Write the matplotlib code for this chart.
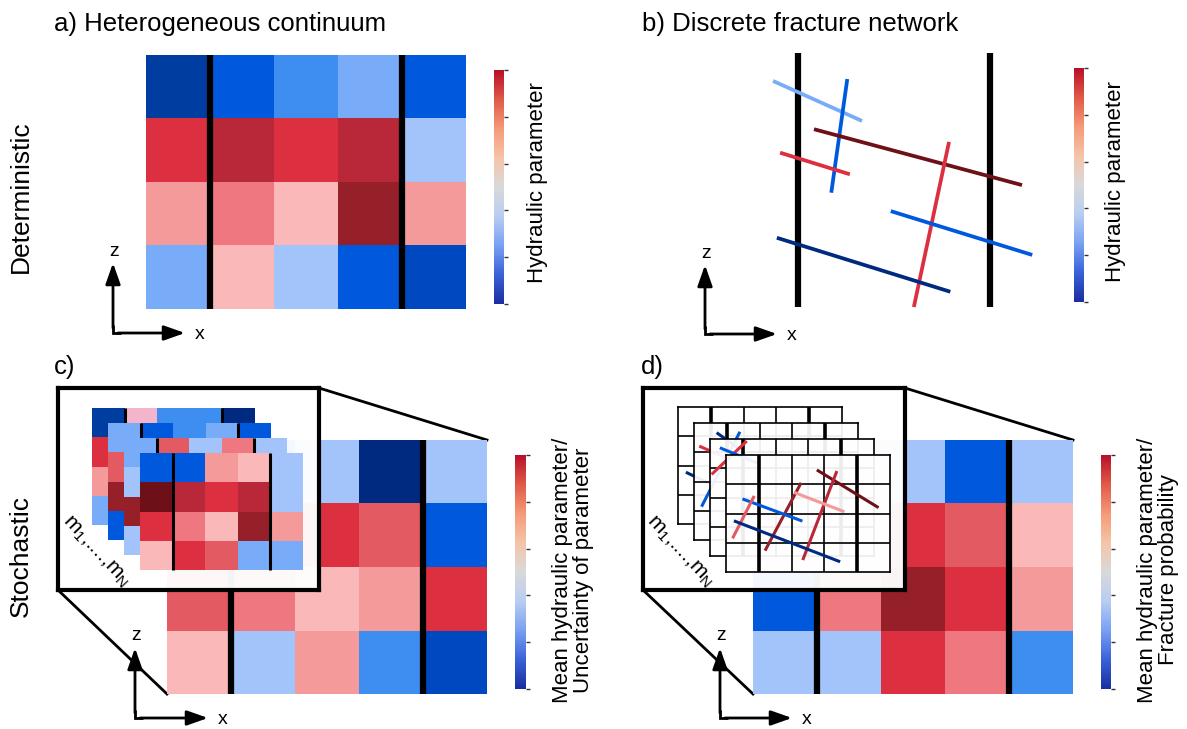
import matplotlib.pyplot as plt
from matplotlib.colors import ListedColormap, LinearSegmentedColormap, Normalize
from matplotlib.cm import ScalarMappable

plt.rcParams['font.family'] = ['Liberation Sans', 'DejaVu Sans']

W, H = 1187, 729

# colour classes used by the cells and fractures
cell_colours = ['#002a80', '#003da0', '#0048c0', '#0059dd', '#3d8ef0', '#78acf8',
                '#a3c4fa', '#fab8b8', '#f49a9a', '#ef7880', '#e45a62', '#dc3040',
                '#b82838', '#96202a', '#6e1018', '#f4b4cc']
cbar_colours = ['#1a2ea0', '#3a62d8', '#7aa0f2', '#b8cdf2', '#d9d9d9',
                '#f5c4a8', '#f59a78', '#e05a48', '#b8102a']

# a) deterministic continuum, rows top -> bottom
a_cells = [[1, 3, 4, 5, 3],
           [11, 12, 11, 12, 6],
           [8, 9, 7, 13, 8],
           [5, 7, 6, 3, 2]]

# b) fractures: (x0, z0, x1, z1, colour class) in cell units
b_fractures = [(0.61, 0.44, 2.00, 1.07, 5),
               (1.77, 0.41, 1.52, 2.20, 3),
               (1.25, 1.20, 4.50, 2.08, 14),
               (0.72, 1.57, 1.81, 1.91, 11),
               (3.36, 1.40, 2.81, 4.00, 11),
               (2.45, 2.49, 4.66, 3.18, 3),
               (0.67, 2.91, 3.38, 3.76, 0)]

# c) mean of realisations and the realisations m1..mN
c_cells = [[5, 3, 6, 0, 6],
           [12, 8, 11, 10, 3],
           [10, 9, 7, 8, 11],
           [7, 6, 8, 4, 2]]
c_layers = [[[1, 15, 4, 4, 0], [11, 6, 9, 3, 5], [8, 12, 10, 7, 3], [5, 9, 6, 11, 8]],
            [[5, 3, 4, 5, 3], [10, 9, 7, 6, 11], [13, 11, 8, 5, 4], [3, 7, 6, 12, 9]],
            [[5, 10, 6, 9, 6], [6, 8, 12, 10, 5], [13, 12, 11, 13, 6], [6, 8, 5, 7, 9]],
            [[3, 3, 8, 7, 6], [14, 12, 11, 12, 6], [11, 9, 7, 13, 8], [7, 11, 10, 5, 5]]]

# d) fracture probability and the DFN realisations
d_cells = [[6, 5, 6, 3, 6],
           [9, 12, 11, 10, 7],
           [3, 9, 13, 11, 8],
           [6, 6, 11, 9, 4]]
d_layer_fractures = [
    [(0.24, 2.23, 1.50, 2.90, 0)],
    [(0.16, 0.79, 1.60, 1.50, 11), (1.40, 0.30, 0.23, 2.86, 3), (0.69, 0.33, 1.40, 0.90, 0)],
    [(1.12, 0.07, 0.05, 1.21, 11), (0.30, 0.30, 1.50, 0.85, 3)],
    [(2.77, 0.51, 4.65, 1.80, 14), (3.38, 0.55, 2.34, 3.59, 12),
     (2.29, 0.95, 1.19, 3.27, 13), (2.08, 1.28, 3.61, 1.94, 8),
     (0.50, 1.50, 2.33, 2.26, 3), (0.86, 1.40, 0.20, 2.85, 10),
     (0.24, 2.25, 3.48, 3.65, 0)]]

zones = [1, 4]   # fracture zones (thick black lines) at these cell boundaries
real_label = r'm$_\mathregular{1}$,....,m$_\mathregular{N}$'

pal = ListedColormap(cell_colours)
pnorm = Normalize(-0.5, len(cell_colours) - 0.5)
cbar_cmap = LinearSegmentedColormap.from_list('hyd', cbar_colours)

fig = plt.figure(figsize=(W / 100, H / 100), dpi=100)
ax = fig.add_axes([0, 0, 1, 1])
ax.set_xlim(0, W)
ax.set_ylim(H, 0)
ax.axis('off')


def px_axes(x0, y0, w, h, off=True):
    a = fig.add_axes([x0 / W, 1 - (y0 + h) / H, w / W, h / H])
    a.set_xlim(0, 5)
    a.set_ylim(4, 0)
    if off:
        a.axis('off')
    else:
        a.set_xticks([])
        a.set_yticks([])
    return a


def grid(x0, y0, w, h, cells, lw=4.5):
    g = px_axes(x0, y0, w, h)
    g.pcolormesh(cells, cmap=pal, norm=pnorm)
    g.vlines(zones, 0, 4, color='k', lw=lw, clip_on=False)
    return g


def fractures(g, fr, lw):
    for x0, z0, x1, z1, c in fr:
        g.plot([x0, x1], [z0, z1], color=pal(pnorm(c)), lw=lw,
               solid_capstyle='butt', clip_on=False)


def colourbar(x0, y0, w, h):
    cax = fig.add_axes([x0 / W, 1 - (y0 + h) / H, w / W, h / H])
    cb = fig.colorbar(ScalarMappable(norm=Normalize(0, 5), cmap=cbar_cmap),
                      cax=cax, ticks=range(6))
    cb.outline.set_visible(False)
    cax.tick_params(length=3, width=1, color='#333333', labelright=False)


def xz_arrows(ox, oy, zt, xt):
    st = dict(arrowstyle='-|>,head_length=0.85,head_width=0.3', lw=2.0,
              color='k', shrinkA=0, shrinkB=0, mutation_scale=15)
    ax.annotate('', xy=(ox, zt), xytext=(ox, oy - 5), arrowprops=st)
    ax.annotate('', xy=(xt, oy), xytext=(ox + 5, oy), arrowprops=st)
    ax.plot([ox, ox, ox + 8], [oy - 8, oy, oy], color='k', lw=2.0,
            solid_joinstyle='miter', solid_capstyle='butt')
    ax.text(ox + 1, zt - 12, 'z', fontsize=14, ha='center', va='center')
    ax.text(xt + 15, oy + 1, 'x', fontsize=14, ha='center', va='center')


def inset_box(x0, y0, x1, y1, gx0, gy0, gx1, gy1):
    ax.plot([x1, gx1], [y0, gy0], color='k', lw=2)
    ax.plot([x0, gx0], [y1, gy1], color='k', lw=2)
    b = px_axes(x0, y0, x1 - x0, y1 - y0, off=False)
    b.set_facecolor((1, 1, 1, 0.96))
    for s in b.spines.values():
        s.set_linewidth(3)
    return b


tfs = 18.5
# ---- a)
ax.text(54, 31, 'a) Heterogeneous continuum', fontsize=tfs, va='baseline')
ax.text(21, 197, 'Deterministic', fontsize=19, rotation=90, ha='center', va='center')
grid(146, 55, 320, 254, a_cells)
colourbar(494, 70, 10, 234)
ax.text(537, 183, 'Hydraulic parameter', fontsize=16, rotation=90, ha='center', va='center')
xz_arrows(113, 333, 263, 185)

# ---- b)
ax.text(642, 31, 'b) Discrete fracture network', fontsize=tfs, va='baseline')
gb = px_axes(734, 53, 320, 254)
gb.vlines(zones, 0, 4, color='k', lw=4.5, clip_on=False)
fractures(gb, b_fractures, 2.7)
colourbar(1074, 68, 10, 234)
ax.text(1116, 182, 'Hydraulic parameter', fontsize=16, rotation=90, ha='center', va='center')
xz_arrows(705, 334, 265, 777)

# ---- c)
ax.text(54, 374, 'c)', fontsize=tfs, va='baseline')
ax.text(21, 556, 'Stochastic', fontsize=19, rotation=90, ha='center', va='center')
grid(167, 440, 320, 254, c_cells)
inset_box(58, 388, 319, 590, 167, 440, 487, 694)
for k, layer in enumerate(c_layers):
    grid(92 + 16 * k, 408 + 15 * k, 163, 117, layer, lw=2.2)
fig.text(96, 551, real_label, transform=ax.transData, fontsize=15,
         rotation=-47, ha='center', va='center')
colourbar(515, 455, 11, 234)
ax.text(573, 570, 'Mean hydraulic parameter/\nUncertainty of parameter', fontsize=16,
        rotation=90, ha='center', va='center', linespacing=1.0)
xz_arrows(135, 718, 648, 208)

# ---- d)
ax.text(641, 374, 'd)', fontsize=tfs, va='baseline')
grid(753, 440, 320, 254, d_cells)
inset_box(643, 388, 905, 590, 753, 440, 1073, 694)
for k, fr in enumerate(d_layer_fractures):
    g = px_axes(678 + 16 * k, 407 + 16 * k, 164, 117, off=False)
    g.set_facecolor((1, 1, 1, 0.93))
    for s in g.spines.values():
        s.set_linewidth(1.2)
    g.vlines(range(1, 5), 0, 4, color='k', lw=1.2)
    g.hlines(range(1, 4), 0, 5, color='k', lw=1.2)
    g.vlines(zones, 0, 4, color='k', lw=2.6)
    fractures(g, fr, 2.2)
fig.text(680, 551, real_label, transform=ax.transData, fontsize=15,
         rotation=-47, ha='center', va='center')
colourbar(1101, 455, 10, 234)
ax.text(1158, 570, 'Mean hydraulic parameter/\nFracture probability', fontsize=16,
        rotation=90, ha='center', va='center', linespacing=1.0)
xz_arrows(720, 718, 648, 792)

fig.savefig('out.png', dpi=100)
